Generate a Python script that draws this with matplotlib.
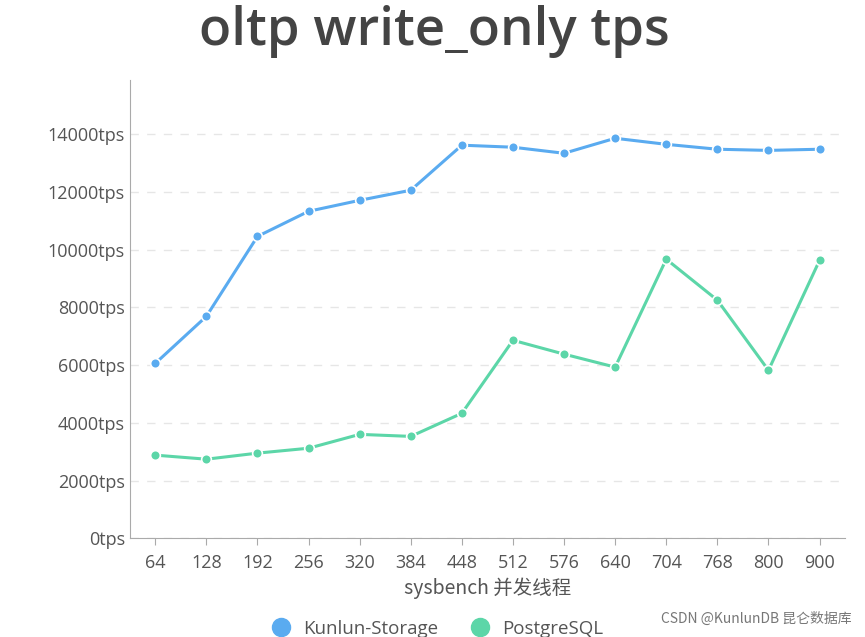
import matplotlib
matplotlib.use('Agg')
import matplotlib.pyplot as plt
from matplotlib.lines import Line2D

plt.rcParams['font.family'] = ['Open Sans', 'Noto Sans CJK SC', 'DejaVu Sans']

threads = ['64', '128', '192', '256', '320', '384', '448', '512', '576', '640', '704', '768', '800', '900']
kunlun = [6060, 7690, 10460, 11330, 11710, 12060, 13620, 13550, 13340, 13860, 13650, 13480, 13440, 13480]
postgres = [2880, 2740, 2950, 3120, 3600, 3530, 4330, 6860, 6380, 5930, 9670, 8250, 5820, 9630]

blue = '#5aabf0'
green = '#5cd6a8'
text_col = '#555555'

fig = plt.figure(figsize=(8.65, 6.37), dpi=100)
ax = fig.add_axes([0.150, 0.155, 0.827, 0.719])

x = range(len(threads))
ax.plot(x, kunlun, color=blue, lw=2.2, marker='o', ms=7, mec='white', mew=1.2)
ax.plot(x, postgres, color=green, lw=2.2, marker='o', ms=7, mec='white', mew=1.2)

ax.set_xlim(-0.5, len(threads) - 0.5)
ax.set_ylim(0, 15870)
ax.set_yticks(range(0, 14001, 2000))
ax.set_yticklabels([f'{v}tps' for v in range(0, 14001, 2000)])
ax.set_xticks(list(x))
ax.set_xticklabels(threads)
ax.tick_params(colors=text_col, labelsize=13, length=0)
ax.tick_params(axis='x', length=5, color='#aaaaaa', pad=6)
ax.grid(axis='y', ls=(0, (6, 6)), color='#e6e6e6', lw=1)
for s in ['top', 'right']:
    ax.spines[s].set_visible(False)
for s in ['left', 'bottom']:
    ax.spines[s].set_color('#aaaaaa')

ax.set_xlabel('sysbench 并发线程', fontsize=14, color=text_col, labelpad=4,
              family=['Noto Sans CJK SC', 'DejaVu Sans'])

fig.text(0.502, 0.95, 'oltp write_only tps', ha='center', va='center',
         fontsize=38, color='#444444', fontweight='semibold')

handles = [Line2D([], [], color=blue, marker='o', ls='', ms=13),
           Line2D([], [], color=green, marker='o', ls='', ms=13)]
fig.legend(handles, ['Kunlun-Storage', 'PostgreSQL'], loc='center',
           bbox_to_anchor=(0.5, 0.013), ncol=2, frameon=False, fontsize=13.5,
           handletextpad=0.2, columnspacing=1.2, labelcolor=text_col)

fig.text(0.985, 0.028, 'CSDN @KunlunDB 昆仑数据库', ha='right', va='center',
         fontsize=10, color='#777777', family=['Noto Sans CJK SC', 'DejaVu Sans'])

fig.savefig('out.png', dpi=100)
